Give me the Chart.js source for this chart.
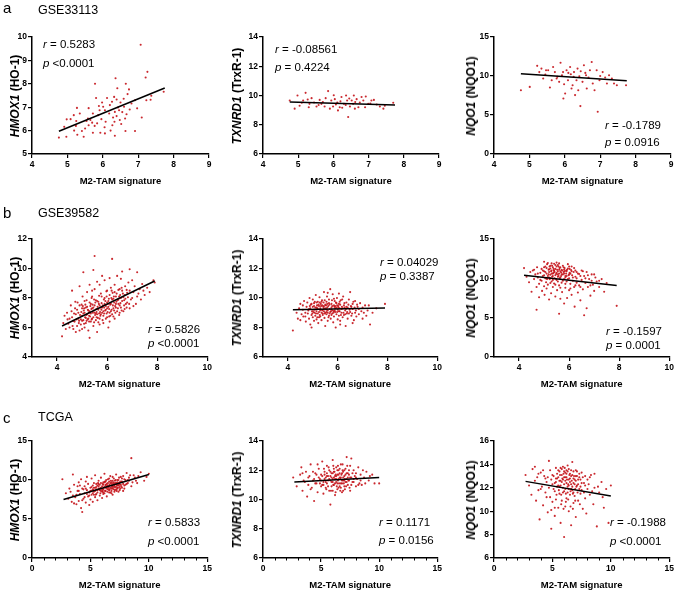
<!DOCTYPE html>
<html>
<head>
<meta charset="utf-8">
<script src="https://cdn.jsdelivr.net/npm/chart.js@4.4.1/dist/chart.umd.min.js"></script>
<style>
body { margin: 0; background: #fff; font-family: "Liberation Sans", Arial, sans-serif; color: #000; }
#fig { position: relative; width: 676px; height: 591px; overflow: hidden; }
.box { position: absolute; }
.letter { position: absolute; font-size: 15px; line-height: 1; }
.dset { position: absolute; font-size: 12.5px; line-height: 1; }
.ytitle { position: absolute; font-weight: bold; font-size: 12px; white-space: nowrap; line-height: 1;
  transform: translate(-50%, -50%) rotate(-90deg); }
.stat { position: absolute; font-size: 11.5px; white-space: nowrap; line-height: 1; }
</style>
</head>
<body>
<div id="fig"></div>
<script>
// tick values
const ticksX_a = [4, 5, 6, 7, 8, 9];
const ticksX_b = [4, 6, 8, 10];
const ticksX_c = [0, 5, 10, 15];
const minorX_c = [1, 2, 3, 4, 6, 7, 8, 9, 11, 12, 13, 14];
const ticksY_a1 = [5, 6, 7, 8, 9, 10];
const ticksY_a2 = [6, 8, 10, 12, 14];
const ticksY_a3 = [0, 5, 10, 15];
const ticksY_b1 = [4, 6, 8, 10, 12];
const ticksY_b2 = [6, 8, 10, 12, 14];
const ticksY_b3 = [0, 5, 10, 15];
const ticksY_c1 = [0, 5, 10, 15];
const ticksY_c2 = [6, 8, 10, 12, 14];
const ticksY_c3 = [6, 8, 10, 12, 14, 16];

// fitted lines (end points)
const fit_a1 = [[4.76, 5.97], [7.75, 7.82]];
const fit_a2 = [[4.76, 9.55], [7.75, 9.35]];
const fit_a3 = [[4.76, 10.3], [7.75, 9.4]];
const fit_b1 = [[4.2, 6.1], [7.9, 9.15]];
const fit_b2 = [[4.2, 9.2], [7.9, 9.32]];
const fit_b3 = [[4.2, 10.4], [7.9, 9.1]];
const fit_c1 = [[2.7, 7.5], [10, 10.7]];
const fit_c2 = [[2.7, 11.2], [10, 11.5]];
const fit_c3 = [[2.7, 12.55], [10, 11.3]];

// GSE33113
const gse33113_hmox1 = [[7.07,9.67],[7.26,8.51],[7.21,8.27],[6.36,8.24],[5.78,8.0],[6.65,8.0],[6.74,7.76],[6.41,7.81],[7.72,7.66],
[5.81,7.39],[6.12,7.39],[6.32,7.44],[6.59,7.36],[6.7,7.56],[7.37,7.49],[7.35,7.32],[6.39,7.33],[5.98,7.2],[6.26,7.23],[6.5,7.2],
[6.91,7.3],[7.23,7.3],[5.89,7.05],[6.01,7.02],[6.2,7.09],[6.43,6.99],[6.6,7.02],[6.81,7.16],[5.27,6.97],[5.6,6.96],[5.91,6.87],
[6.06,6.87],[6.34,6.8],[6.46,6.87],[6.55,6.79],[6.76,6.9],[6.97,6.95],[5.35,6.73],[5.72,6.73],[5.87,6.66],[6.18,6.73],[6.39,6.62],
[6.67,6.7],[5.18,6.66],[5.09,6.49],[5.58,6.52],[5.96,6.49],[6.29,6.56],[6.63,6.52],[4.98,6.48],[5.25,6.41],[5.65,6.45],[6.08,6.38],
[6.33,6.38],[6.48,6.45],[7.1,6.56],[5.7,6.34],[5.84,6.31],[5.54,6.41],[4.91,6.16],[5.24,6.2],[5.6,6.23],[5.77,6.2],[6.27,6.23],
[6.52,6.28],[6.05,6.14],[5.5,6.09],[5.19,6.0],[5.41,5.98],[5.93,5.91],[6.22,6.0],[6.64,5.98],[5.72,5.91],[6.91,5.98],[5.28,5.82],
[5.46,5.74],[6.34,5.78],[4.97,5.74],[4.76,5.7],[6.06,5.88]];
const gse33113_txnrd1 = [[4.76,9.66],[4.9,9.1],[4.98,10.0],[5.21,10.18],[5.14,9.66],[5.27,9.73],[5.38,9.82],[5.04,9.3],[5.32,9.43],
[5.52,9.25],[5.61,9.7],[5.66,9.43],[5.75,9.25],[5.85,10.3],[5.94,9.66],[5.99,9.25],[6.04,9.75],[6.11,9.52],[6.18,9.2],[6.23,9.9],
[6.3,9.43],[6.36,10.0],[6.39,9.66],[6.42,8.53],[6.47,9.25],[6.52,9.66],[6.56,9.43],[6.66,9.75],[6.71,9.2],[6.75,9.52],[6.85,9.66],
[6.92,9.93],[6.99,9.43],[7.08,9.66],[7.23,9.38],[7.32,9.25],[7.42,9.1],[7.46,9.3],[7.7,9.5],[5.9,9.1],[6.13,8.98],[6.25,9.16],
[6.61,9.1],[5.45,9.52],[5.78,9.82],[6.01,10.02],[6.58,10.0],[6.8,9.9],[7.15,9.7],[5.1,9.5],[5.58,9.35],[6.2,9.6],[6.35,9.35],
[6.45,9.8],[6.9,9.2],[7.05,9.45],[5.3,9.2],[5.7,9.55],[6.07,9.38],[6.62,9.55]];
const gse33113_nqo1 = [[4.76,8.18],[5.01,8.6],[5.22,11.3],[5.28,10.5],[5.34,10.95],[5.39,9.67],[5.47,10.74],[5.58,8.52],[5.63,9.46],
[5.67,11.16],[5.72,10.5],[5.79,9.89],[5.84,9.25],[5.88,11.7],[5.92,10.1],[5.96,7.12],[6.01,7.76],[6.05,10.74],[6.09,9.46],
[6.15,11.16],[6.17,10.23],[6.22,8.82],[6.26,10.5],[6.29,7.55],[6.33,9.46],[6.36,10.95],[6.41,9.97],[6.44,6.14],[6.5,9.25],
[6.54,11.38],[6.58,10.4],[6.62,8.4],[6.67,9.8],[6.71,10.74],[6.76,11.8],[6.79,9.03],[6.84,8.18],[6.9,10.74],[6.93,5.42],[6.98,9.46],
[7.07,10.5],[7.14,9.8],[7.19,9.03],[7.25,10.1],[7.33,9.67],[7.39,9.03],[7.47,8.82],[7.73,8.82],[5.53,10.74],[5.98,8.95],[6.19,8.4],
[6.38,8.18],[5.77,9.67],[5.45,10.2],[6.1,10.4],[6.45,10.6],[6.25,9.9],[5.95,10.5],[6.6,10.1],[7.0,10.0]];

// GSE39582
const gse39582_hmox1 = [[4.2,5.4],[4.25,6.3],[4.3,6.8],[4.35,5.9],[4.4,7.0],[4.45,6.25],[4.5,6.0],[4.5,6.6],
[4.55,7.5],[4.6,6.7],[4.6,8.5],[4.62,6.1],[4.65,5.9],[4.68,6.95],[4.7,6.4],[4.72,7.3],[4.75,5.7],[4.75,6.9],[4.78,6.55],[4.8,7.2],[4.8,6.1],
[4.82,7.7],[4.85,6.6],[4.87,6.3],[4.9,7.5],[4.9,5.8],[4.9,8.8],[4.92,6.85],[4.95,6.2],[4.97,7.05],[5.0,6.8],[5.0,7.3],[5.0,5.9],[5.0,6.45],
[5.02,8.1],[5.05,6.5],[5.05,9.75],[5.07,7.15],[5.1,7.0],[5.1,7.8],[5.1,6.0],[5.12,6.7],
[5.15,6.3],[5.15,7.35],[5.17,6.85],[5.2,6.9],[5.2,7.4],[5.2,8.4],[5.22,6.55],[5.25,6.6],[5.25,5.8],[5.27,7.0],[5.3,7.1],[5.3,7.7],
[5.3,5.3],[5.3,8.9],[5.32,6.75],[5.35,6.4],[5.35,6.95],[5.37,7.25],[5.4,7.3],[5.4,8.1],[5.4,6.6],[5.4,8.5],
[5.42,7.55],[5.45,6.7],[5.45,6.1],[5.45,9.9],[5.47,7.15],[5.5,7.0],[5.5,7.5],[5.5,8.6],[5.5,10.85],[5.52,6.85],[5.55,6.5],[5.55,7.85],
[5.57,7.25],[5.6,6.9],[5.6,7.8],[5.6,5.7],[5.6,9.1],[5.62,7.4],[5.65,7.2],[5.65,6.35],[5.68,8.15],[5.7,6.6],[5.7,7.5],[5.7,6.2],[5.7,8.9],
[5.72,7.05],[5.75,8.3],[5.75,6.9],[5.78,7.65],[5.8,7.0],[5.8,7.35],[5.8,9.5],[5.82,6.5],[5.85,6.8],[5.85,6.3],[5.87,7.9],[5.9,7.6],
[5.9,8.0],[5.9,9.2],[5.92,7.15],[5.95,7.2],[5.95,6.6],[5.97,8.45],[6.0,6.7],[6.0,7.7],[6.0,8.5],[6.0,7.3],
[6.02,7.05],[6.05,7.4],[6.05,6.0],[6.07,7.95],[6.1,8.2],[6.1,7.0],[6.1,6.4],[6.1,9.35],[6.12,7.55],[6.15,7.6],[6.15,8.7],[6.18,7.2],
[6.2,6.9],[6.2,7.9],[6.2,10.65],[6.22,8.35],[6.25,7.3],[6.25,6.75],[6.28,7.7],[6.3,8.4],[6.3,6.6],[6.3,8.9],
[6.32,7.45],[6.35,7.6],[6.35,8.1],[6.4,7.1],[6.4,9.5],[6.42,7.85],[6.45,7.9],[6.45,8.55],[6.5,8.6],[6.5,7.5],[6.5,7.0],[6.52,8.2],
[6.55,9.3],[6.55,7.35],[6.6,7.8],[6.6,9.8],[6.6,8.5],
[6.65,7.1],[6.65,8.05],[6.7,8.2],[6.7,7.25],[6.72,8.8],[6.75,7.6],[6.8,7.7],[6.8,8.35],[6.85,9.05],[6.9,8.5],[6.9,7.3],[6.9,9.95],[6.95,7.9],
[7.0,8.0],[7.0,9.2],[7.05,7.45],[7.1,8.8],[7.15,7.6],[7.2,9.75],[7.25,8.3],[7.3,8.6],[7.35,7.9],[7.4,8.95],[7.5,8.2],[7.6,8.7],
[7.7,8.4],[7.85,9.2],[7.9,9.05],
[4.85,7.0],[4.95,6.55],[5.03,7.45],[5.08,6.25],[5.13,7.55],[5.18,6.45],[5.23,7.2],[5.28,6.8],[5.33,7.45],[5.38,6.55],[5.43,7.0],
[5.48,6.35],[5.53,7.7],[5.58,7.05],[5.63,6.65],[5.67,7.6],[5.73,6.8],[5.77,7.2],[5.83,7.5],[5.88,6.95],[5.93,7.8],[5.98,6.95],
[6.03,7.6],[6.08,7.25],[6.13,6.8],[6.17,8.0],[6.23,7.5],[6.27,8.1],[6.33,7.0],[6.37,7.75],[6.43,7.3],[6.48,8.1],[6.53,7.65],
[6.58,7.15],[6.63,8.3],[6.68,7.5],[6.73,7.95],[6.78,8.55],[6.83,8.05],[6.88,7.6],[5.05,6.95],[5.15,6.65],[5.25,7.15],[5.35,7.6],
[5.45,7.35],[5.55,6.95],[5.65,7.75],[5.75,7.35],[5.85,7.1],[5.95,7.45],[6.05,7.8],[6.15,7.1],[6.25,7.95],[6.35,7.35],[6.45,7.6],
[6.55,8.0],[4.88,6.45],[4.98,7.55],[5.08,7.3],[5.18,7.85],[5.28,6.4],[5.38,8.0],[5.48,7.9],[5.58,6.7],[5.68,6.95],[5.78,8.1],
[5.88,7.35],[5.98,8.1],[6.08,6.75],[6.18,8.5],[6.28,7.15],[6.38,8.3],[6.48,6.85],[6.58,8.7],[6.68,7.85],[6.78,7.35],[7.05,8.4],
[7.2,8.1],[7.45,8.5],[4.65,6.45],[4.58,7.1],[4.73,7.75],[4.42,6.55]];
const gse39582_txnrd1 = [[4.2,7.8],[4.35,9.0],[4.4,8.6],[4.45,9.3],[4.5,8.5],[4.5,9.6],[4.55,8.9],[4.6,9.2],[4.62,8.75],[4.65,9.8],
[4.7,9.0],[4.72,8.4],[4.75,9.4],[4.78,9.7],[4.8,8.95],[4.82,9.15],[4.85,8.6],[4.87,10.0],[4.9,9.3],[4.9,8.2],[4.92,9.55],[4.95,8.85],
[4.97,9.1],[5.0,9.4],[5.0,8.7],[5.0,9.9],[5.02,9.2],[5.05,8.45],[5.05,9.65],[5.07,9.0],[5.1,9.35],[5.1,8.8],[5.12,10.2],[5.15,9.1],
[5.15,8.55],[5.17,9.5],[5.2,9.25],[5.2,8.95],[5.2,9.75],[5.22,8.3],[5.25,9.05],[5.25,9.45],[5.27,10.05],[5.3,8.75],[5.3,9.3],
[5.32,9.6],[5.35,9.0],[5.35,8.5],[5.37,9.85],[5.4,9.2],[5.4,8.85],[5.42,9.4],[5.45,10.4],[5.45,9.1],[5.47,8.65],[5.5,9.55],
[5.5,9.0],[5.5,8.1],[5.52,9.3],[5.55,9.75],[5.55,8.9],[5.57,10.1],[5.6,9.15],[5.6,8.45],[5.62,9.45],[5.65,8.8],[5.65,9.9],
[5.68,9.25],[5.7,10.6],[5.7,9.05],[5.72,8.6],[5.75,9.6],[5.75,9.35],[5.78,8.95],[5.8,10.25],[5.8,9.15],[5.82,8.35],[5.85,9.5],
[5.85,8.75],[5.88,9.8],[5.9,9.05],[5.9,9.3],[5.92,8.0],[5.95,9.65],[5.95,8.9],[5.97,10.0],[6.0,9.2],[6.0,8.55],[6.02,9.45],
[6.05,8.8],[6.05,10.3],[6.08,9.1],[6.1,9.55],[6.1,8.45],[6.12,9.85],[6.15,9.0],[6.2,9.3],[6.2,8.7],[6.22,10.1],[6.25,9.5],[6.3,8.9],
[6.3,9.15],[6.32,8.1],[6.35,9.7],[6.4,9.35],[6.4,8.6],[6.45,9.9],[6.5,10.4],[6.5,9.05],[6.55,8.8],[6.6,9.6],[6.6,9.25],[6.65,8.5],
[6.7,9.8],[6.7,9.0],[6.75,8.75],[6.8,9.4],[6.85,8.9],[6.9,9.65],[6.95,9.1],[7.0,8.6],[7.0,9.35],[7.1,9.5],[7.15,8.8],[7.2,9.15],
[7.3,8.2],[7.4,9.0],[7.55,9.3],[7.9,9.6],[6.1,8.2],[5.6,10.35],[4.95,8.0],[6.6,8.3],[5.3,9.15],[5.45,9.45],[5.6,9.0],[5.75,9.2],
[5.9,9.45],[6.05,9.1],[5.4,8.95],[5.15,9.35],[5.55,9.2],[5.85,9.1],
[4.85,9.25],[4.95,9.6],[5.03,9.05],[5.08,9.75],[5.13,8.95],[5.18,9.3],[5.23,9.55],[5.28,8.85],[5.33,9.45],[5.38,9.15],[5.43,9.7],
[5.48,8.95],[5.53,9.5],[5.58,9.35],[5.63,8.7],[5.67,9.55],[5.73,9.1],[5.77,9.85],[5.83,9.0],[5.87,9.4],[5.93,9.7],[5.98,9.05],
[6.03,9.35],[6.08,9.75],[6.13,8.85],[6.17,9.4],[6.23,9.0],[6.27,9.65],[6.33,9.25],[6.37,8.95],[6.43,9.55],[6.48,9.2],[6.53,9.45],
[6.58,8.95],[6.63,9.75],[6.68,9.35],[6.73,9.15],[6.78,9.55],[5.05,9.45],[5.15,9.7],[5.25,8.7],[5.35,9.75],[5.45,9.3],[5.55,9.05],
[5.65,9.65],[5.75,8.85],[5.85,9.95],[5.95,9.35],[6.05,9.6],[6.15,9.25],[6.25,8.85],[6.35,9.4],[6.45,8.95],[4.88,9.45],[4.98,8.95],
[5.08,9.2],[5.18,8.7],[5.28,9.7],[5.38,9.5],[5.48,9.85],[5.58,9.6],[5.68,8.95],[5.78,9.45],[5.88,9.15],[5.98,9.5],[6.08,9.3],
[6.18,9.9],[6.28,9.35],[6.38,9.05],[6.55,9.4],[6.85,9.25],[7.05,9.0],[7.25,9.5],[4.6,9.5],[4.7,8.75]];
const gse39582_nqo1 = [[4.2,11.3],[4.3,10.2],[4.4,9.5],[4.45,10.8],[4.5,8.3],[4.55,11.0],[4.6,9.9],[4.65,10.5],[4.7,6.0],[4.7,8.9],
[4.72,11.4],[4.75,10.1],[4.8,9.3],[4.8,7.6],[4.85,10.7],[4.9,11.2],[4.9,9.7],[4.92,8.4],[4.95,10.3],[5.0,12.1],[5.0,10.9],[5.0,9.0],
[5.02,7.9],[5.05,11.5],[5.05,10.0],[5.08,9.5],[5.1,10.6],[5.1,8.7],[5.12,11.8],[5.15,10.3],[5.15,9.2],[5.18,11.1],[5.2,10.8],
[5.2,7.3],[5.22,9.9],[5.25,11.6],[5.25,10.45],[5.28,8.1],[5.3,11.0],[5.3,9.6],[5.32,10.2],[5.35,11.4],[5.35,8.9],[5.38,10.7],
[5.4,11.85],[5.4,9.35],[5.42,10.0],[5.45,11.2],[5.45,7.7],[5.48,10.55],[5.5,11.5],[5.5,9.8],[5.52,8.5],[5.55,10.9],[5.55,11.7],
[5.58,10.3],[5.6,5.5],[5.6,9.1],[5.62,11.3],[5.65,10.1],[5.65,7.4],[5.68,10.75],[5.7,11.1],[5.7,9.45],[5.72,8.25],[5.75,10.5],
[5.78,11.4],[5.8,9.9],[5.8,6.8],[5.82,10.9],[5.85,8.8],[5.88,11.0],[5.9,10.3],[5.9,9.6],[5.92,7.5],[5.95,11.25],[6.0,10.0],
[6.0,8.5],[6.02,10.7],[6.05,9.3],[6.08,11.05],[6.1,7.9],[6.12,10.4],[6.15,9.7],[6.2,11.3],[6.2,8.9],[6.22,6.4],[6.25,10.2],
[6.3,9.45],[6.3,10.8],[6.35,8.2],[6.4,10.55],[6.4,9.1],[6.45,7.2],[6.5,9.8],[6.5,11.0],[6.55,8.6],[6.6,10.3],[6.6,5.3],[6.65,9.4],
[6.7,6.2],[6.7,10.8],[6.75,8.9],[6.8,9.9],[6.85,7.8],[6.9,10.5],[6.95,9.2],[7.0,8.4],[7.05,10.1],[7.1,9.6],[7.2,8.9],[7.3,9.9],
[7.4,8.3],[7.5,9.4],[7.9,6.5],[5.3,11.9],[5.5,12.0],[5.6,11.9],[5.15,11.95],[5.75,11.6],[6.0,11.5],[5.95,11.8],[5.2,10.1],
[5.35,10.6],[5.45,10.4],[5.55,10.2],[5.65,10.9],[5.8,10.6],[5.25,11.25],[5.4,10.95],[5.6,10.6],[5.85,10.3],[6.1,10.9],
[4.95,11.0],[5.0,10.4],[5.05,10.8],[5.1,11.3],[5.12,9.9],[5.18,10.5],[5.22,11.5],[5.25,10.0],[5.28,10.9],[5.32,11.6],[5.35,10.3],
[5.38,11.2],[5.42,10.8],[5.45,11.7],[5.48,9.9],[5.52,11.1],[5.55,10.5],[5.58,11.5],[5.62,10.0],[5.65,11.4],[5.68,10.3],[5.72,11.0],
[5.75,9.7],[5.78,10.8],[5.82,11.3],[5.85,10.1],[5.88,10.6],[5.92,11.1],[5.95,9.9],[5.98,10.4],[6.02,11.2],[6.05,10.6],[6.1,11.5],
[6.15,10.1],[6.18,10.8],[6.25,11.0],[6.3,10.0],[6.35,10.6],[6.45,10.3],[6.55,10.9],[6.65,10.0],[6.75,10.4],[6.9,9.7],[7.0,10.5],
[5.3,10.6],[5.4,11.0],[5.5,10.7],[5.6,11.1],[5.7,10.5],[5.8,11.1],[5.9,10.9],[6.0,10.5],[5.2,11.15],[5.1,10.0],[5.0,11.4],
[4.85,9.8],[4.75,10.6],[4.6,11.1],[5.25,9.4],[5.45,9.2],[5.65,8.8],[5.85,9.3],[6.05,8.7],[6.25,9.1],[6.45,8.9],[6.85,9.1],
[7.2,9.7],[5.55,9.6],[5.35,9.8]];

// TCGA
const tcga_hmox1 = [[2.6,10.1],[2.9,8.3],[3.1,7.6],[3.2,8.9],[3.4,7.2],[3.5,10.7],[3.5,8.0],[3.6,9.4],[3.7,7.8],[3.8,6.9],
[3.9,8.6],[4.0,9.7],[4.0,7.3],[4.1,8.2],[4.2,10.1],[4.2,6.4],[4.3,5.9],[4.3,8.9],[4.4,7.6],[4.5,9.2],[4.5,8.3],[4.6,7.1],
[4.7,10.4],[4.7,8.7],[4.8,7.9],[4.8,9.5],[4.9,6.8],[4.9,8.4],[5.0,9.0],[5.0,7.5],[5.1,10.2],[5.1,8.1],[5.2,8.8],[5.2,7.2],
[5.3,9.6],[5.3,8.5],[5.4,7.8],[5.4,10.6],[5.5,9.1],[5.5,8.2],[5.6,8.7],[5.6,7.4],[5.7,9.9],[5.7,8.9],[5.8,8.0],[5.8,9.4],
[5.9,8.6],[5.9,10.3],[6.0,9.2],[6.0,7.7],[6.1,8.8],[6.1,9.7],[6.2,8.3],[6.2,10.8],[6.3,9.0],[6.3,8.6],[6.4,9.5],[6.4,7.9],
[6.5,10.1],[6.5,9.2],[6.6,8.7],[6.6,9.8],[6.7,8.4],[6.7,10.5],[6.8,9.3],[6.8,8.9],[6.9,9.9],[6.9,8.1],[7.0,9.5],[7.0,10.2],
[7.1,8.7],[7.1,9.1],[7.2,10.7],[7.2,9.6],[7.3,8.9],[7.3,9.3],[7.4,10.0],[7.4,8.5],[7.5,9.7],[7.5,9.1],[7.6,10.4],[7.7,9.0],
[7.7,9.8],[7.8,8.6],[7.9,10.1],[8.0,9.4],[8.1,10.9],[8.2,9.6],[8.3,10.3],[8.5,12.8],[8.5,9.2],[8.7,10.6],[8.9,9.9],[9.1,10.5],
[9.3,11.0],[9.6,9.9],[9.8,10.4],[10.0,10.8],[5.6,9.3],[5.9,9.0],[6.1,9.4],[6.3,9.8],[6.5,8.8],[6.7,9.6],[6.9,9.2],[7.1,9.9],
[7.3,10.0],[7.5,8.7],[6.0,8.5],[6.4,8.9],[6.8,8.3],[5.5,8.8],[5.2,9.3],[4.6,8.9],[7.6,9.4],[7.9,9.3],[8.2,10.0],[6.2,9.1],
[6.6,9.3],[7.0,8.8],[5.8,8.7],[5.4,9.0],[6.9,10.4],[7.2,9.1],[4.4,8.8],[3.9,9.2],[3.3,8.5],[5.1,8.6],[5.7,9.5],[6.3,9.4],
[6.8,9.7],[7.4,9.5],[4.9,8.0],[5.3,8.1],[6.1,8.4],[6.6,10.2],[7.8,10.5],
[5.0,8.6],[5.1,9.1],[5.2,8.3],[5.3,9.0],[5.4,8.6],[5.5,9.5],[5.6,8.4],[5.7,9.2],[5.8,8.9],[5.9,9.6],[6.0,8.8],[6.05,9.5],
[6.1,8.2],[6.15,9.0],[6.2,9.7],[6.25,8.6],[6.3,9.3],[6.35,10.0],[6.4,9.1],[6.45,8.5],[6.5,9.6],[6.55,9.0],[6.6,8.4],[6.65,9.4],
[6.7,9.0],[6.75,9.9],[6.8,8.6],[6.85,9.5],[6.9,8.9],[6.95,9.7],[7.0,9.1],[7.05,8.5],[7.1,9.6],[7.15,10.0],[7.2,8.8],[7.25,9.4],
[7.3,9.7],[7.35,9.0],[7.4,9.3],[7.45,10.3],[7.5,9.4],[7.55,8.9],[7.6,9.8],[7.65,9.2],[7.7,10.2],[7.8,9.5],[7.9,8.9],[8.0,10.0],
[8.1,9.5],[8.3,9.9],[8.4,10.6],[8.6,9.7],[8.8,10.3],[9.0,9.6],[5.25,8.7],[5.45,8.1],[5.65,9.6],[5.85,8.3],[6.05,8.6],[6.25,9.8],
[6.45,9.3],[6.65,8.8],[6.85,9.1],[7.05,9.3],[7.25,8.6],[7.45,9.6],[4.5,7.8],[4.7,8.2],[4.3,7.4],[4.1,9.3],[3.8,8.1],[4.0,8.6],
[4.6,9.8],[3.6,7.0]];
const tcga_txnrd1 = [[2.6,11.5],[2.9,10.9],[3.2,11.7],[3.3,12.2],[3.4,10.6],[3.5,11.3],[3.7,11.9],[3.8,10.2],[3.9,11.0],[4.0,11.6],
[4.1,12.4],[4.2,10.8],[4.3,11.3],[4.4,9.9],[4.5,11.8],[4.6,11.1],[4.7,10.5],[4.8,12.1],[4.9,11.4],[5.0,10.9],[5.0,11.7],[5.1,12.6],
[5.2,11.2],[5.2,10.4],[5.3,11.9],[5.4,11.5],[5.4,10.8],[5.5,12.3],[5.5,11.1],[5.6,11.6],[5.7,10.6],[5.7,12.0],[5.8,9.65],[5.8,11.3],
[5.9,11.8],[5.9,10.9],[6.0,12.7],[6.0,11.4],[6.1,11.0],[6.1,11.9],[6.2,10.3],[6.2,11.6],[6.3,12.2],[6.3,11.2],[6.4,10.7],[6.4,11.7],
[6.5,11.4],[6.5,12.0],[6.6,10.9],[6.6,11.5],[6.7,12.4],[6.7,11.1],[6.8,11.8],[6.8,10.5],[6.9,11.3],[6.9,11.9],[7.0,11.6],[7.0,10.9],
[7.1,12.1],[7.2,11.4],[7.2,12.9],[7.3,11.0],[7.4,11.7],[7.5,10.6],[7.6,12.8],[7.6,11.5],[7.7,11.2],[7.8,12.0],[7.9,11.6],[8.0,10.9],
[8.1,11.4],[8.2,12.2],[8.4,11.7],[8.5,11.0],[8.7,11.5],[8.9,11.9],[9.1,11.3],[9.4,11.7],[9.6,11.1],[10.0,11.1],[5.6,11.3],[5.8,11.9],
[6.0,11.2],[6.2,11.4],[6.4,11.1],[6.6,11.8],[6.8,11.3],[7.0,11.3],[7.2,11.8],[7.4,11.3],[7.8,11.4],[5.3,11.4],[4.9,11.1],[6.1,12.1],
[6.5,10.8],[6.9,10.6],[7.5,12.3],[8.3,11.1],[4.6,11.7],[3.6,11.2],[5.5,11.6],[5.9,11.5],[6.3,11.6],[6.7,11.5],[7.1,11.2],[6.0,10.6],
[5.1,11.0],[7.3,11.5],[4.4,11.4],[8.0,11.8],
[5.0,11.3],[5.1,11.6],[5.2,11.0],[5.3,11.7],[5.4,11.2],[5.5,11.8],[5.6,10.9],[5.7,11.4],[5.8,11.6],[5.9,11.2],[6.0,11.8],[6.05,11.0],
[6.1,11.5],[6.15,11.9],[6.2,11.1],[6.25,11.7],[6.3,11.4],[6.35,10.9],[6.4,12.0],[6.45,11.3],[6.5,11.7],[6.55,11.1],[6.6,12.1],
[6.65,11.4],[6.7,10.8],[6.75,11.7],[6.8,11.1],[6.85,12.0],[6.9,11.5],[6.95,11.1],[7.0,12.0],[7.05,11.4],[7.1,11.7],[7.15,10.9],
[7.2,11.2],[7.3,11.8],[7.35,11.3],[7.4,12.0],[7.5,11.5],[7.6,11.0],[7.7,11.8],[7.8,11.2],[8.0,11.5],[8.2,11.0],[8.4,11.3],[8.6,12.0],
[5.25,12.1],[5.45,10.7],[5.65,12.2],[5.85,10.6],[6.05,12.3],[6.25,10.5],[6.45,12.3],[6.65,10.6],[6.85,12.4],[7.05,10.7],[7.25,12.3],
[7.45,10.8],[4.5,11.1],[4.8,11.5],[4.3,11.9],[3.9,11.5],[4.1,10.7],[3.4,11.8],[4.7,12.4],[9.2,11.6],[8.8,11.1]];
const tcga_nqo1 = [[2.7,13.1],[3.0,12.2],[3.2,11.4],[3.3,13.6],[3.5,12.6],[3.6,10.9],[3.7,12.9],[3.8,11.8],[3.9,9.3],[4.0,13.3],
[4.1,12.1],[4.2,10.5],[4.3,13.0],[4.4,11.6],[4.5,12.5],[4.6,9.9],[4.7,14.3],[4.7,12.0],[4.8,13.5],[4.8,11.2],[4.9,8.5],[4.9,12.7],
[5.0,10.8],[5.0,13.1],[5.1,11.9],[5.2,12.4],[5.2,9.6],[5.3,13.7],[5.3,11.0],[5.4,12.8],[5.5,10.3],[5.5,12.2],[5.6,13.4],[5.6,11.5],
[5.7,12.6],[5.7,9.0],[5.8,13.1],[5.8,10.9],[5.9,12.0],[5.9,13.8],[6.0,7.8],[6.0,11.7],[6.0,12.9],[6.1,10.4],[6.1,13.3],[6.2,12.4],
[6.2,11.1],[6.3,13.9],[6.3,12.1],[6.4,10.0],[6.4,12.7],[6.5,11.4],[6.5,13.2],[6.6,8.8],[6.6,12.3],[6.7,14.2],[6.7,11.8],[6.8,10.7],
[6.8,12.8],[6.9,11.3],[7.0,13.5],[7.0,9.5],[7.1,12.2],[7.2,10.9],[7.3,12.9],[7.4,11.5],[7.5,13.3],[7.6,10.2],[7.7,12.4],[7.8,11.1],
[7.9,9.8],[8.0,12.7],[8.2,11.4],[8.3,13.1],[8.5,10.6],[8.6,12.0],[8.8,8.7],[9.0,11.6],[9.2,12.5],[9.4,10.3],[9.6,11.9],[9.8,9.0],
[10.0,12.2],[5.5,12.9],[5.8,12.5],[6.0,13.4],[6.2,12.9],[6.4,13.6],[6.6,13.0],[6.8,13.4],[7.0,12.6],[7.2,12.7],[5.7,13.7],[6.1,12.6],
[6.5,12.5],[6.9,12.3],[7.3,11.9],[5.4,13.2],[6.3,11.6],[6.7,12.1],[7.5,12.4],[5.9,12.7],[6.1,11.9],[6.4,12.2],[6.8,11.6],[7.1,13.0],
[5.6,12.1],[6.2,13.5],[6.6,11.9],[7.4,12.1],[5.3,12.5],[4.6,12.9],[7.8,13.0],[8.1,12.3],
[5.0,12.3],[5.1,13.0],[5.2,11.7],[5.3,12.8],[5.4,12.1],[5.5,13.5],[5.55,11.8],[5.6,12.6],[5.65,13.1],[5.7,12.2],[5.75,11.4],
[5.8,13.6],[5.85,12.8],[5.9,11.6],[5.95,13.2],[6.0,12.3],[6.05,13.7],[6.1,12.9],[6.15,11.5],[6.2,13.2],[6.25,12.7],[6.3,13.4],
[6.35,12.3],[6.4,11.9],[6.45,13.1],[6.5,12.8],[6.55,11.7],[6.6,13.5],[6.65,12.6],[6.7,13.1],[6.75,11.5],[6.8,12.4],[6.85,13.0],
[6.9,12.7],[6.95,11.9],[7.0,13.0],[7.05,12.1],[7.1,13.4],[7.15,11.6],[7.2,12.3],[7.3,13.2],[7.4,12.7],[7.5,11.8],[7.6,12.9],
[7.7,11.6],[7.8,12.2],[8.0,11.9],[8.2,12.9],[8.4,11.7],[5.35,11.4],[5.75,10.6],[6.15,10.8],[6.55,10.4],[6.95,10.9],[7.35,10.6],
[5.95,10.2],[6.35,11.0],[6.75,10.2],[4.4,12.8],[4.2,13.5],[4.5,11.2],[3.8,13.2],[3.5,13.8],[4.0,11.9],[8.6,13.2],[8.9,12.1],
[9.3,11.2],[5.2,10.3],[4.9,10.1]];

const stats = [
  ['0.5283', '<0.0001'], ['-0.08561', '= 0.4224'], ['-0.1789', '= 0.0916'],
  ['0.5826', '<0.0001'], ['0.04029', '= 0.3387'], ['-0.1597', '= 0.0001'],
  ['0.5833', '<0.0001'], ['0.1171', '= 0.0156'], ['-0.1988', '<0.0001']
];

const FONT = "'Liberation Sans', Arial, sans-serif";
const Y_W = 30, X_H = 33, PT = 8, PR = 5;
const fig = document.getElementById('fig');

const genes = [['HMOX1', '(HO-1)'], ['TXNRD1', '(TrxR-1)'], ['NQO1', '(NQO1)']];
const colX = [[32, 209, 17], [263, 439, 26], [494, 671, 23]];
const rowY = [[37, 154], [239, 357], [441, 558]];
const rowXRange = [[4, 9, ticksX_a, null], [3, 10, ticksX_b, null], [0, 15, ticksX_c, minorX_c]];

const panels = [
  { pts: gse33113_hmox1, fit: fit_a1, y: [5, 10, ticksY_a1], stat: [43, 45, 64] },
  { pts: gse33113_txnrd1, fit: fit_a2, y: [6, 14, ticksY_a2], stat: [275, 50, 68] },
  { pts: gse33113_nqo1, fit: fit_a3, y: [0, 15, ticksY_a3], stat: [605, 126, 143] },
  { pts: gse39582_hmox1, fit: fit_b1, y: [4, 12, ticksY_b1], stat: [148, 330, 344] },
  { pts: gse39582_txnrd1, fit: fit_b2, y: [6, 14, ticksY_b2], stat: [380, 263, 277] },
  { pts: gse39582_nqo1, fit: fit_b3, y: [0, 15, ticksY_b3], stat: [606, 332, 346] },
  { pts: tcga_hmox1, fit: fit_c1, y: [0, 15, ticksY_c1], stat: [148, 523, 542] },
  { pts: tcga_txnrd1, fit: fit_c2, y: [6, 14, ticksY_c2], stat: [379, 523, 541] },
  { pts: tcga_nqo1, fit: fit_c3, y: [6, 16, ticksY_c3], stat: [610, 523, 542] }
];

// short minor ticks under the x axis (TCGA row)
const minorTicks = {
  id: 'minorTicks',
  afterDraw(chart, args, opts) {
    if (!opts.values) return;
    const s = chart.scales.x, ctx = chart.ctx;
    ctx.save();
    ctx.strokeStyle = '#000';
    ctx.lineWidth = 1;
    opts.values.forEach(v => {
      const px = Math.round(s.getPixelForValue(v)) + 0.5;
      ctx.beginPath();
      ctx.moveTo(px, s.top);
      ctx.lineTo(px, s.top + 2.5);
      ctx.stroke();
    });
    ctx.restore();
  }
};

function addText(cls, html, left, top) {
  const d = document.createElement('div');
  d.className = cls;
  d.innerHTML = html;
  d.style.left = left + 'px';
  d.style.top = top + 'px';
  fig.appendChild(d);
  return d;
}

function axisOpts(min, max, tickVals, isX) {
  return {
    type: 'linear', min: min, max: max,
    afterBuildTicks: s => { s.ticks = tickVals.map(v => ({ value: v })); },
    afterFit: s => { if (isX) s.height = X_H; else s.width = Y_W; },
    grid: { display: true, drawOnChartArea: false, drawTicks: true, tickLength: 4, color: '#000', lineWidth: 1.2 },
    border: { display: true, color: '#000', width: 1.5 },
    ticks: { color: '#000', padding: isX ? 2 : 1, autoSkip: false, maxRotation: 0,
      font: { family: FONT, weight: 'bold', size: 8.5 } },
    title: isX ? { display: true, text: 'M2-TAM signature', color: '#000', padding: 0,
      font: { family: FONT, weight: 'bold', size: 9.5 } } : { display: false }
  };
}

panels.forEach((p, i) => {
  const row = Math.floor(i / 3), col = i % 3;
  const [x0, x1, yOff] = colX[col];
  const [y0, y1] = rowY[row];
  const [xMin, xMax, xTicks, minor] = rowXRange[row];
  const w = (x1 - x0) + Y_W + PR, h = (y1 - y0) + PT + X_H;

  const box = document.createElement('div');
  box.className = 'box';
  box.style.left = (x0 - Y_W) + 'px';
  box.style.top = (y0 - PT) + 'px';
  const cv = document.createElement('canvas');
  cv.width = w; cv.height = h;
  cv.style.width = w + 'px'; cv.style.height = h + 'px';
  box.appendChild(cv);
  fig.appendChild(box);

  new Chart(cv, {
    type: 'scatter',
    data: {
      datasets: [
        { data: p.pts.map(d => ({ x: d[0], y: d[1] })), pointRadius: 1.05, pointBorderWidth: 0,
          pointBackgroundColor: 'rgba(196,18,24,0.9)', order: 2 },
        { type: 'line', data: p.fit.map(d => ({ x: d[0], y: d[1] })), borderColor: '#000', borderWidth: 1.5,
          pointRadius: 0, fill: false, order: 1 }
      ]
    },
    options: {
      responsive: false, animation: false, devicePixelRatio: 1,
      layout: { padding: { top: PT, right: PR, left: 0, bottom: 0 } },
      plugins: { legend: { display: false }, tooltip: { enabled: false }, minorTicks: { values: minor } },
      scales: { x: axisOpts(xMin, xMax, xTicks, true), y: axisOpts(p.y[0], p.y[1], p.y[2], false) }
    },
    plugins: [minorTicks]
  });

  const g = genes[col];
  addText('ytitle', '<i>' + g[0] + '</i> ' + g[1], x0 - yOff, (y0 + y1) / 2);
  const [sx, ry, py] = p.stat;
  addText('stat', '<i>r</i> = ' + stats[i][0], sx, ry - 6);
  addText('stat', '<i>p</i> ' + stats[i][1].replace('<', '&lt;'), sx, py - 6);
});

// panel headers
addText('letter', 'a', 3, 0);
addText('dset', 'GSE33113', 38, 4);
addText('letter', 'b', 3, 205);
addText('dset', 'GSE39582', 38, 207);
addText('letter', 'c', 3, 410);
addText('dset', 'TCGA', 38, 411);
</script>
</body>
</html>
